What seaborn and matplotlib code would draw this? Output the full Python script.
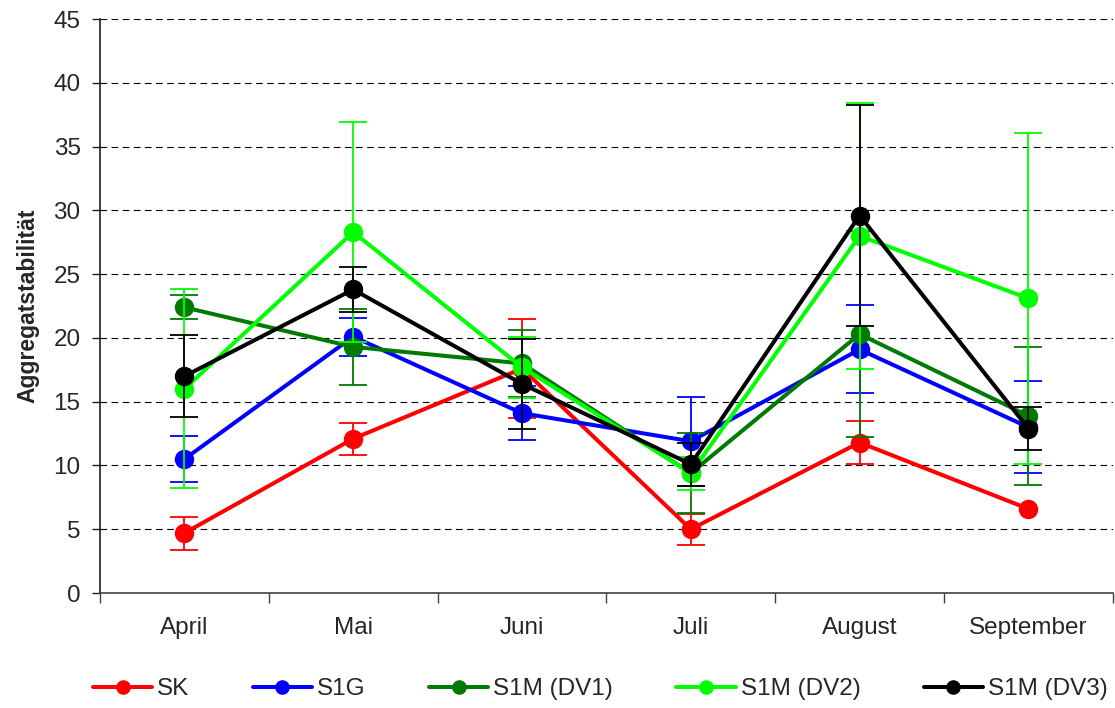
import matplotlib
matplotlib.use("Agg")
import matplotlib.pyplot as plt
import seaborn as sns
import pandas as pd
import numpy as np

months = ["April", "Mai", "Juni", "Juli", "August", "September"]
series_names = ["SK", "S1G", "S1M (DV1)", "S1M (DV2)", "S1M (DV3)"]
colors = ["#ff0000", "#0000ff", "#007a00", "#00ff00", "#000000"]

sk_vals = [4.7, 12.1, 17.6, 5.0, 11.8, 6.6]
sk_err = [1.3, 1.25, 3.9, 1.2, 1.7, 0.0]
s1g_vals = [10.5, 20.1, 14.1, 11.9, 19.1, 13.0]
s1g_err = [1.8, 1.5, 2.1, 3.5, 3.45, 3.6]
dv1_vals = [22.4, 19.3, 18.0, 9.4, 20.3, 13.9]
dv1_err = [0.95, 3.0, 2.6, 3.15, 8.1, 5.4]
dv2_vals = [16.0, 28.3, 17.7, 9.4, 28.0, 23.1]
dv2_err = [7.8, 8.6, 2.4, 1.3, 10.4, 13.0]
dv3_vals = [17.0, 23.8, 16.4, 10.1, 29.6, 12.9]
dv3_err = [3.2, 1.8, 3.5, 1.7, 8.65, 1.65]

all_vals = [sk_vals, s1g_vals, dv1_vals, dv2_vals, dv3_vals]
all_err = [sk_err, s1g_err, dv1_err, dv2_err, dv3_err]

rows = []
for name, vals, errs in zip(series_names, all_vals, all_err):
    for m, v, e in zip(months, vals, errs):
        rows.append({"Monat": m, "Serie": name, "Wert": v, "Fehler": e})
df = pd.DataFrame(rows)

sns.set_style("white")
plt.rcParams["font.family"] = ["Liberation Sans", "DejaVu Sans"]

fig = plt.figure(figsize=(11.15, 7.08), dpi=100)
ax = fig.add_axes([0.0897, 0.1624, 0.9083, 0.8106])

xpos = {m: i for i, m in enumerate(months)}
for z, (name, col) in enumerate(zip(series_names, colors)):
    sub = df[df["Serie"] == name]
    xs = sub["Monat"].map(xpos).to_numpy()
    mask = sub["Fehler"].to_numpy() > 0
    ax.errorbar(xs[mask], sub["Wert"].to_numpy()[mask], yerr=sub["Fehler"].to_numpy()[mask],
                fmt="none", ecolor=col, elinewidth=1.3, capsize=10, capthick=1.3,
                zorder=2 + 2 * z)
    sns.lineplot(data=sub, x="Monat", y="Wert", ax=ax, color=col, marker="o",
                 markersize=14, markeredgewidth=0, linewidth=2.9,
                 label=name, zorder=3 + 2 * z, sort=False)

ax.set_xlim(-0.5, 5.5)
ax.set_ylim(0, 45)
ax.set_yticks(np.arange(0, 46, 5))
ax.set_xticks(range(len(months)))
ax.set_xticklabels(months, fontsize=17.5)
ax.set_xticks(np.arange(-0.5, 5.6, 1), minor=True)
ax.tick_params(axis="x", which="major", length=0, pad=17)
ax.tick_params(axis="x", which="minor", length=7, width=1, color="#404040", direction="out", bottom=True)
ax.tick_params(axis="y", length=6, width=1, color="#202020", direction="out", left=True,
               labelsize=17.5, pad=8)
for y in range(5, 46, 5):
    ax.axhline(y, color="black", linestyle=(0, (6, 4)), linewidth=0.8, zorder=1)
ax.grid(False)
for s in ["top", "right"]:
    ax.spines[s].set_visible(False)
ax.spines["left"].set_color("#202020")
ax.spines["bottom"].set_color("#404040")
for s in ["left", "bottom"]:
    ax.spines[s].set_linewidth(1.2)
ax.set_xlabel("")
ax.set_ylabel("Aggregatstabilität", fontsize=16.5, fontweight="bold", labelpad=10)

handles, labels = ax.get_legend_handles_labels()
ax.legend(handles, labels, loc="center", bbox_to_anchor=(0.494, -0.168), ncol=5,
          frameon=False, fontsize=17.5, handlelength=2.45, columnspacing=2.6,
          handletextpad=0.2, markerscale=0.75)

fig.savefig("out.png", dpi=100)
